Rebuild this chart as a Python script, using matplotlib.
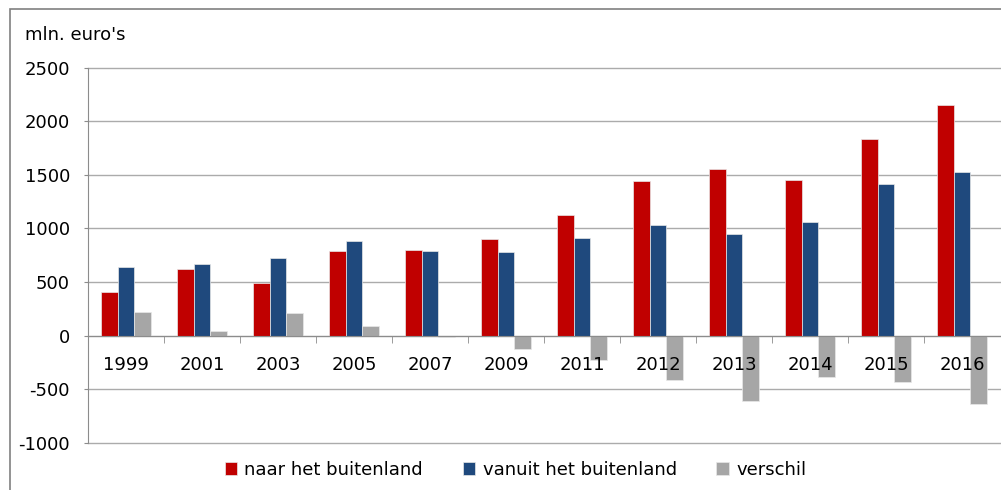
import numpy as np
import matplotlib
matplotlib.use("Agg")
import matplotlib.pyplot as plt
from matplotlib.patches import Rectangle


years = ["1999", "2001", "2003", "2005", "2007", "2009", "2011",
         "2012", "2013", "2014", "2015", "2016"]
naar = [411, 620, 495, 790, 800, 905, 1130, 1440, 1551, 1449, 1837, 2155]
vanuit = [645, 673, 720, 880, 790, 776, 910, 1030, 953, 1062, 1411, 1526]
verschil = [224, 47, 208, 87, -12, -128, -224, -418, -614, -390, -433, -636]

series_names = ["naar het buitenland", "vanuit het buitenland", "verschil"]
colors = ["#C00000", "#1F497D", "#A6A6A6"]

plt.rcParams["font.family"] = ["DejaVu Sans"]
plt.rcParams["axes.unicode_minus"] = False

fig = plt.figure(figsize=(10.01, 4.9), dpi=100)
ax = fig.add_axes([0.0879, 0.0963, 0.9111, 0.7655])

# frame around the chart (only left and top are in view)
fig.patches.append(Rectangle((10 / 1001, -0.1), 1.2, 1 - 9 / 490 + 0.1,
                             transform=fig.transFigure, fill=False,
                             edgecolor="#808080", linewidth=1.2, zorder=0))

x = np.arange(len(years))
w = 0.222
for i, (vals, c, name) in enumerate(zip([naar, vanuit, verschil], colors, series_names)):
    ax.bar(x + (i - 1) * w, vals, width=w, color=c, edgecolor="#e8e8e8",
           linewidth=0.5, label=name, zorder=3)

ax.set_xlim(-0.5, len(years) - 0.5)
ax.set_ylim(-1000, 2500)
ax.set_yticks(np.arange(-1000, 2501, 500))
ax.yaxis.grid(True, color="#ababab", linewidth=1.0)
ax.yaxis.set_zorder(0)
for gl in ax.get_ygridlines():
    gl.set_clip_on(False)

for s in ["top", "right"]:
    ax.spines[s].set_visible(False)
ax.spines["left"].set_color("#8c8c8c")
ax.spines["bottom"].set_position(("data", 0))
ax.spines["bottom"].set_color("#8c8c8c")
ax.spines["bottom"].set_zorder(4)

# year labels sit just under the zero line, drawn on top of the bars
ax.xaxis.set_zorder(5)
ax.set_xticks(x)
ax.set_xticklabels(years)
ax.set_xticks(np.arange(0.5, len(years) - 0.5, 1), minor=True)
ax.tick_params(axis="x", which="major", length=0, pad=15, labelsize=13)
ax.tick_params(axis="x", which="minor", length=5, color="#8c8c8c", direction="out")
ax.tick_params(axis="y", length=3, color="#8c8c8c", labelsize=13, pad=10)

fig.text(25 / 1001, 1 - 35 / 490, "mln. euro's", fontsize=13, va="center", ha="left")

fig.legend(loc="center", bbox_to_anchor=(0.515, 1 - 470 / 490), ncol=3,
           frameon=False, fontsize=13, handlelength=0.7, handleheight=0.7,
           handletextpad=0.4, columnspacing=2.2)

fig.savefig("out.png", dpi=100)
